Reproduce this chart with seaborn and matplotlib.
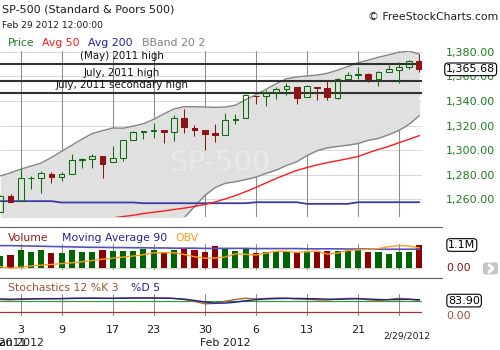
import numpy as np
import pandas as pd
import matplotlib
matplotlib.use("Agg")
import matplotlib.pyplot as plt
import matplotlib.transforms as mtransforms
from matplotlib.lines import Line2D
from matplotlib.patches import FancyBboxPatch
import seaborn as sns

# ---------------------------------------------------------------- data
dates = ["12/29", "12/30", "1/3", "1/4", "1/5", "1/6", "1/9", "1/10", "1/11", "1/12",
         "1/13", "1/17", "1/18", "1/19", "1/20", "1/23", "1/24", "1/25", "1/26", "1/27",
         "1/30", "1/31", "2/1", "2/2", "2/3", "2/6", "2/7", "2/8", "2/9", "2/10",
         "2/13", "2/14", "2/15", "2/16", "2/17", "2/21", "2/22", "2/23", "2/24", "2/27",
         "2/28", "2/29"]

prior_close = 1249.64

opens = [1249.75, 1262.82, 1258.86, 1277.03, 1277.30, 1280.93, 1277.83, 1280.77, 1292.02, 1292.48,
         1294.82, 1290.22, 1293.65, 1308.07, 1314.49, 1315.29, 1315.96, 1314.40, 1326.28, 1318.25,
         1316.16, 1313.53, 1312.45, 1324.24, 1326.21, 1344.32, 1344.33, 1347.04, 1349.97, 1351.21,
         1343.06, 1351.30, 1350.52, 1342.61, 1358.06, 1361.22, 1362.11, 1357.53, 1363.46, 1365.20,
         1367.56, 1372.20]
highs = [1263.54, 1264.12, 1284.62, 1278.73, 1283.05, 1281.84, 1281.99, 1296.46, 1293.80, 1296.82,
         1294.82, 1303.00, 1308.11, 1315.49, 1315.38, 1322.28, 1315.96, 1328.30, 1333.47, 1320.06,
         1316.16, 1321.41, 1330.52, 1329.19, 1345.34, 1344.36, 1349.24, 1351.00, 1354.32, 1351.21,
         1353.35, 1351.30, 1355.87, 1359.02, 1363.40, 1367.76, 1362.70, 1364.24, 1368.92, 1371.94,
         1373.09, 1378.04]
lows = [1249.75, 1257.46, 1258.86, 1268.10, 1265.26, 1273.34, 1274.55, 1280.77, 1285.41, 1285.77,
        1277.58, 1290.22, 1290.99, 1308.07, 1309.17, 1309.89, 1306.06, 1307.65, 1313.60, 1311.72,
        1300.49, 1306.69, 1312.45, 1321.57, 1326.21, 1337.52, 1335.92, 1341.95, 1344.63, 1337.35,
        1343.06, 1340.83, 1340.80, 1341.22, 1357.24, 1358.11, 1355.53, 1352.28, 1363.46, 1354.92,
        1365.97, 1363.81]
closes = [1263.02, 1257.60, 1277.06, 1277.30, 1281.06, 1277.81, 1280.70, 1292.08, 1292.48, 1295.50,
          1289.09, 1293.67, 1308.04, 1314.50, 1315.38, 1316.00, 1314.65, 1326.06, 1318.43, 1316.33,
          1313.01, 1312.41, 1324.09, 1325.54, 1344.90, 1344.33, 1347.05, 1349.96, 1351.95, 1342.64,
          1351.77, 1350.50, 1343.23, 1358.04, 1361.23, 1362.21, 1357.66, 1363.46, 1365.74, 1367.59,
          1372.18, 1365.68]

avg50 = [1233.0, 1234.0, 1235.5, 1236.5, 1237.5, 1238.5, 1239.5, 1240.5, 1241.6, 1242.6,
         1243.7, 1244.9, 1246.0, 1247.0, 1248.4, 1249.5, 1250.5, 1251.7, 1252.8, 1254.2,
         1255.8, 1257.8, 1260.3, 1263.0, 1266.2, 1269.6, 1273.3, 1277.0, 1280.3, 1283.5,
         1285.8, 1288.0, 1289.8, 1291.4, 1293.0, 1294.8, 1297.8, 1300.6, 1303.0, 1306.0,
         1308.8, 1311.8]
avg200 = [1258.5, 1258.5, 1258.5, 1258.5, 1258.5, 1258.5, 1257.4, 1257.4, 1257.4, 1257.4,
          1257.4, 1257.4, 1257.4, 1257.4, 1256.8, 1256.8, 1256.8, 1256.8, 1256.8, 1256.8,
          1256.8, 1256.8, 1256.8, 1256.8, 1256.8, 1257.6, 1257.6, 1257.6, 1257.6, 1257.6,
          1256.3, 1256.3, 1256.3, 1256.3, 1256.3, 1257.6, 1257.6, 1257.6, 1257.6, 1257.6,
          1257.6, 1257.6]
bb_upper = [1279.0, 1281.5, 1284.5, 1287.0, 1289.5, 1294.0, 1299.0, 1304.0, 1309.0, 1313.5,
            1315.8, 1318.0, 1317.8, 1319.5, 1321.5, 1325.0, 1329.5, 1333.5, 1335.3, 1335.3,
            1335.0, 1334.8, 1335.0, 1336.5, 1341.0, 1345.0, 1349.5, 1354.0, 1358.0, 1359.5,
            1360.3, 1361.0, 1362.5, 1365.0, 1368.0, 1371.0, 1373.2, 1375.5, 1377.5, 1379.5,
            1380.5, 1378.0]
bb_lower = [1200.0, 1202.0, 1203.0, 1204.0, 1205.0, 1206.0, 1208.0, 1210.0, 1212.0, 1214.0,
            1216.0, 1218.0, 1222.0, 1226.0, 1230.0, 1233.0, 1236.0, 1240.0, 1245.0, 1254.0,
            1263.0, 1269.5, 1273.0, 1274.3, 1276.0, 1278.0, 1281.0, 1283.8, 1287.5, 1290.5,
            1295.5, 1299.5, 1301.8, 1303.0, 1304.0, 1305.3, 1308.0, 1309.5, 1312.5, 1316.0,
            1321.0, 1328.0]

resistance_levels = [1370.0, 1356.5, 1346.5]
resistance_labels = ["(May) 2011 high", "July, 2011 high", "July, 2011 secondary high"]

# volume in millions
volume = [0.58, 0.63, 0.86, 0.76, 0.86, 0.71, 0.71, 0.86, 0.76, 0.76,
          0.86, 0.82, 0.82, 0.82, 0.91, 0.86, 0.76, 0.86, 0.91, 0.86,
          0.76, 1.07, 0.91, 0.82, 0.91, 0.71, 0.76, 0.82, 0.82, 0.76,
          0.82, 0.76, 0.82, 0.82, 0.82, 0.86, 0.76, 0.76, 0.68, 0.78,
          0.78, 1.10]
vol_ma90 = [1.07, 1.07, 1.06, 1.05, 1.04, 1.03, 1.02, 1.01, 1.00, 0.99,
            0.99, 0.98, 0.98, 0.97, 0.97, 0.96, 0.96, 0.95, 0.95, 0.95,
            0.94, 0.94, 0.94, 0.94, 0.94, 0.93, 0.93, 0.93, 0.93, 0.93,
            0.92, 0.92, 0.92, 0.92, 0.91, 0.91, 0.91, 0.90, 0.90, 0.90,
            0.90, 0.90]
obv = [0.08, 0.00, 0.05, 0.11, 0.15, 0.18, 0.22, 0.26, 0.31, 0.37,
       0.43, 0.48, 0.53, 0.58, 0.64, 0.73, 0.74, 0.73, 0.65, 0.55,
       0.48, 0.48, 0.53, 0.68, 0.66, 0.63, 0.71, 0.80, 0.80, 0.75,
       0.78, 0.82, 0.67, 0.72, 0.84, 0.87, 0.90, 0.93, 1.02, 1.07,
       1.05, 0.97]

stoch_k = [90, 88, 92, 94, 95, 94, 95, 97, 97, 98,
           96, 96, 98, 99, 99, 99, 97, 96, 90, 80,
           66, 68, 80, 90, 97, 93, 96, 98, 98, 93,
           92, 88, 87, 93, 96, 96, 88, 84, 90, 97,
           92, 83.9]
stoch_d = [93, 92, 92, 93, 94, 95, 95, 96, 97, 97,
           97, 97, 97, 98, 98, 98, 98, 96, 92, 85,
           76, 70, 70, 75, 83, 89, 93, 95, 96, 96,
           95, 94, 92, 91, 93, 94, 93, 90, 89, 90,
           91, 89]
stoch_levels = [80, 20]

price_ticks = [1260, 1280, 1300, 1320, 1340, 1360, 1380]
grid_dates = ["1/3", "1/9", "1/17", "1/23", "1/30", "2/6", "2/13", "2/21", "2/27"]
day_labels = {"1/3": "3", "1/9": "9", "1/17": "17", "1/23": "23", "1/30": "30",
              "2/6": "6", "2/13": "13", "2/21": "21"}
month_labels = {"12/29": "Dec 2011", "1/3": "Jan 2012", "2/1": "Feb 2012"}

# ---------------------------------------------------------------- style
sns.set_style("white")
plt.rcParams["font.family"] = ["DejaVu Sans"]

GREEN = "#0b6e0b"
RED = "#8c1414"
VOL_GREEN = "#006400"
VOL_RED = "#8b0000"
TXT = "#1c1c1c"
PRICE_GREEN = "#1e7d1e"
NAVY = "#22229a"
GRID_V = "#8c8c8c"
GRID_H = "#dadada"

W, H = 500, 350
fig = plt.figure(figsize=(W / 100, H / 100), dpi=100)
fig.patch.set_facecolor("white")


def fx(px):
    return px / W


def fy(py):
    return 1 - py / H


def ftext(px, py, s, **kw):
    kw.setdefault("va", "center")
    fig.text(fx(px), fy(py), s, **kw)


PLOT_R = 422
ax_p = fig.add_axes([0, fy(217), fx(PLOT_R), (217 - 50.5) / H])
ax_v = fig.add_axes([0, fy(270), fx(PLOT_R), 26 / H])
ax_s = fig.add_axes([0, fy(316), fx(PLOT_R), 22 / H])

idx = np.arange(len(dates))
pos = {d: i for i, d in enumerate(dates)}
XLIM = (-0.03, 41.26)

for ax in (ax_p, ax_v, ax_s):
    ax.set_facecolor("none")
    for sp in ax.spines.values():
        sp.set_visible(False)
    for d in grid_dates:
        ax.axvline(pos[d], color=GRID_V, lw=0.75, zorder=0.6)

# ---------------------------------------------------------------- price panel
o, h, l, c = map(np.asarray, (opens, highs, lows, closes))
prev = np.concatenate([[prior_close], c[:-1]])
up = c >= prev
col = np.where(up, GREEN, RED)
body_lo = np.minimum(o, c)
body_hi = np.maximum(o, c)
hollow = c > o

ax_p.fill_between(idx, bb_lower, bb_upper, color="#e0e0e0", lw=0, zorder=1)
ax_p.text(21.5, 1289.5, "SP-500", fontsize=21, color="white", alpha=0.3,
          ha="center", va="center", zorder=1.1)

frame = pd.DataFrame({"i": idx, "upper": bb_upper, "lower": bb_lower,
                      "avg50": avg50, "avg200": avg200})
sns.lineplot(data=frame, x="i", y="upper", ax=ax_p, color="#858585", lw=1.0, zorder=2)
sns.lineplot(data=frame, x="i", y="lower", ax=ax_p, color="#858585", lw=1.0, zorder=2)
sns.lineplot(data=frame, x="i", y="avg200", ax=ax_p, color="#3a3aa8", lw=1.3, zorder=2)
sns.lineplot(data=frame, x="i", y="avg50", ax=ax_p, color="#ff1a1a", lw=1.0, zorder=2)

for lvl, lab in zip(resistance_levels, resistance_labels):
    ax_p.axhline(lvl, color="#303030", lw=1.5, zorder=2.5)
    ax_p.annotate(lab, (11.9, lvl), xytext=(0, 5.6), textcoords="offset points",
                  ha="center", va="center", fontsize=7.4, color="#111111", zorder=2.6)

ax_p.vlines(idx, l, body_lo, colors=col, lw=0.75, zorder=4)
ax_p.vlines(idx, body_hi, h, colors=col, lw=0.75, zorder=4)
face = [("none" if hol else cc) for hol, cc in zip(hollow, col)]
ax_p.bar(idx, body_hi - body_lo, bottom=body_lo, width=0.56, color=face,
         edgecolor=col, linewidth=0.75, zorder=4)

ax_p.set_xlim(*XLIM)
ax_p.set_ylim(1245.6, 1381.0)
ax_p.set_yticks(price_ticks)
ax_p.set_yticklabels([f"{v:,.2f}" for v in price_ticks])
ax_p.yaxis.tick_right()
ax_p.tick_params(axis="y", length=0, pad=17.3, labelsize=8, labelcolor=PRICE_GREEN)
ax_p.set_xticks([])
ax_p.grid(axis="y", color=GRID_H, lw=0.75)
ax_p.set_axisbelow(True)
ax_p.set_xlabel("")
ax_p.set_ylabel("")

ytr = mtransforms.blended_transform_factory(ax_p.transAxes, ax_p.transData)
ax_p.text(1.057, c[-1], f"{c[-1]:,.2f}", transform=ytr, fontsize=8, color="black",
          ha="left", va="center", clip_on=False, zorder=10,
          bbox=dict(boxstyle="round,pad=0.12,rounding_size=0.3", fc="white",
                    ec="black", lw=0.8))

# ---------------------------------------------------------------- volume panel
vol_frame = pd.DataFrame({"i": idx, "volume": volume,
                          "dir": np.where(up, "up", "down"),
                          "ma90": vol_ma90, "obv": obv})
ax_v.axhline(0, color=GRID_H, lw=0.9, zorder=0.5)
sns.barplot(data=vol_frame, x="i", y="volume", hue="dir",
            palette={"up": VOL_GREEN, "down": VOL_RED}, native_scale=True,
            width=0.6, dodge=False, legend=False, saturation=1, errorbar=None,
            linewidth=0, ax=ax_v, zorder=2)
sns.lineplot(data=vol_frame, x="i", y="ma90", ax=ax_v, color="#5252bd", lw=1.2, zorder=3)
sns.lineplot(data=vol_frame, x="i", y="obv", ax=ax_v, color="#ff9a1a", lw=1.0, zorder=3)
ax_v.set_xlim(*XLIM)
ax_v.set_ylim(-0.08, 1.147)
ax_v.set_xticks([])
ax_v.set_yticks([])
ax_v.set_xlabel("")
ax_v.set_ylabel("")

vtr = mtransforms.blended_transform_factory(ax_v.transAxes, ax_v.transData)
ax_v.text(1.062, volume[-1], f"{volume[-1]:.1f}M", transform=vtr, fontsize=8,
          color="black", ha="left", va="center", clip_on=False, zorder=10,
          bbox=dict(boxstyle="round,pad=0.12,rounding_size=0.3", fc="white",
                    ec="black", lw=0.8))
ax_v.text(1.057, 0, "0.00", transform=vtr, fontsize=8, color="#8b1a1a",
          ha="left", va="center", clip_on=False)

# ---------------------------------------------------------------- stochastics panel
st_frame = pd.DataFrame({"i": idx, "k": stoch_k, "d": stoch_d})
ax_s.axhline(0, color=GRID_H, lw=0.9, zorder=0.5)
ax_s.axhline(stoch_levels[0], color="#3c9c3c", lw=0.9, zorder=1)
ax_s.axhline(stoch_levels[1], color="#a83232", lw=0.9, zorder=1)
sns.lineplot(data=st_frame, x="i", y="k", ax=ax_s, color="#b0602a", lw=1.0, zorder=2)
sns.lineplot(data=st_frame, x="i", y="d", ax=ax_s, color="#1f1f8c", lw=1.0, zorder=2)
ax_s.set_xlim(*XLIM)
ax_s.set_ylim(-1.67, 120.6)
ax_s.set_xticks([])
ax_s.set_yticks([])
ax_s.set_xlabel("")
ax_s.set_ylabel("")

str_ = mtransforms.blended_transform_factory(ax_s.transAxes, ax_s.transData)
ax_s.text(1.062, stoch_k[-1], f"{stoch_k[-1]:.2f}", transform=str_, fontsize=8,
          color="black", ha="left", va="center", clip_on=False, zorder=10,
          bbox=dict(boxstyle="round,pad=0.12,rounding_size=0.3", fc="white",
                    ec="black", lw=0.8))
ax_s.text(1.057, 0, "0.00", transform=str_, fontsize=8, color="#a0522d",
          ha="left", va="center", clip_on=False)

# ---------------------------------------------------------------- date axis
xtr = mtransforms.blended_transform_factory(ax_s.transData, fig.transFigure)
for d, lab in day_labels.items():
    ax_s.text(pos[d], fy(330), lab, transform=xtr, fontsize=8, color=TXT,
              ha="center", va="center", clip_on=False)
for d, lab in month_labels.items():
    ax_s.text(pos[d], fy(342.5), lab, transform=xtr, fontsize=7.8, color=TXT,
              ha="center", va="center", clip_on=False)
ftext(406.5, 336, "2/29/2012", fontsize=6.6, color=TXT, ha="center")

# ---------------------------------------------------------------- header and legends
ftext(2, 10, "SP-500 (Standard & Poors 500)", fontsize=8, color=TXT)
ftext(2, 25, "Feb 29 2012 12:00:00", fontsize=6.6, color=TXT)
ftext(498, 17, "\u00a9 FreeStockCharts.com", fontsize=7.8, color=TXT, ha="right")

for px, s, cc in [(8, "Price", PRICE_GREEN), (42, "Avg 50", "#ff1a1a"),
                  (88, "Avg 200", NAVY), (142, "BBand 20 2", "#808080")]:
    ftext(px, 43.3, s, fontsize=7.8, color=cc)
for px, s, cc in [(8, "Volume", "#8b1a1a"), (62, "Moving Average 90", NAVY),
                  (175, "OBV", "#ff9a1a")]:
    ftext(px, 237.7, s, fontsize=7.8, color=cc)
for px, s, cc in [(8, "Stochastics 12 %K 3", "#a0522d"), (131, "%D 5", NAVY)]:
    ftext(px, 288.3, s, fontsize=7.8, color=cc)

# panel separators
for py in (227, 278):
    fig.add_artist(Line2D([0, fx(442)], [fy(py), fy(py)], color="#5f5f5f", lw=0.8))

# scroll button
fig.add_artist(FancyBboxPatch((fx(483), fy(274.5)), fx(15), 12 / H,
                              boxstyle="round,pad=0,rounding_size=0.006",
                              transform=fig.transFigure, fc="#c6c6c6", ec="none"))
fig.add_artist(Line2D([fx(489), fx(493), fx(489)], [fy(264.8), fy(268.5), fy(272.2)],
                      color="white", lw=2.0, solid_capstyle="round",
                      solid_joinstyle="round"))

fig.savefig("out.png", dpi=100, facecolor="white")
